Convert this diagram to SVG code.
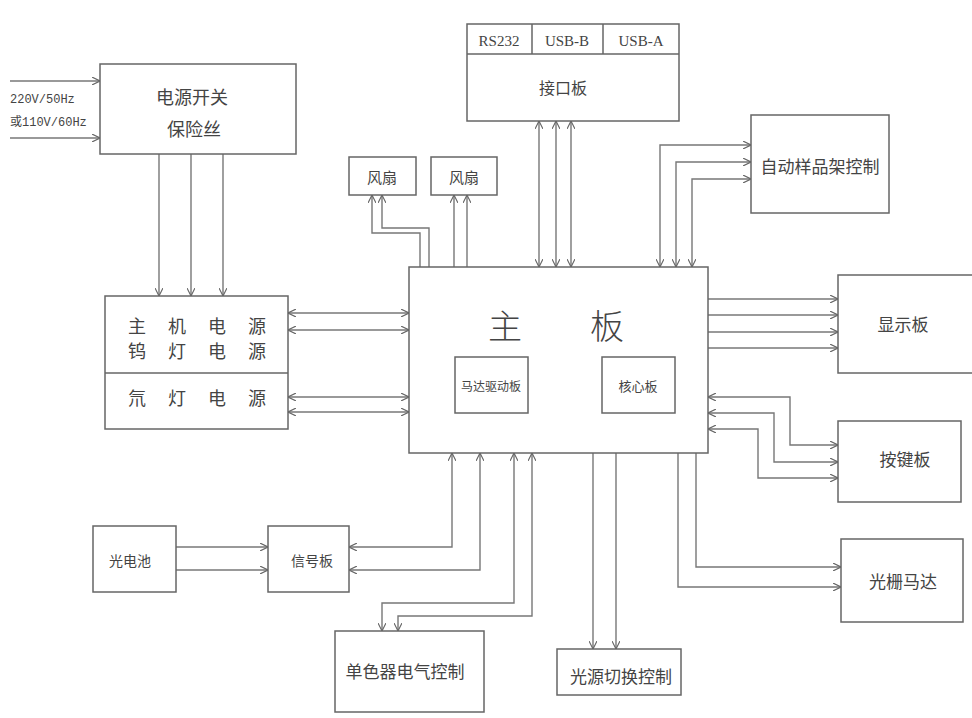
<svg xmlns="http://www.w3.org/2000/svg" width="972" height="718" viewBox="0 0 972 718">
<defs>
<marker id="ah" viewBox="0 0 10 10" refX="10" refY="5" markerWidth="8" markerHeight="8" markerUnits="userSpaceOnUse" orient="auto-start-reverse">
<path d="M0,0 L10,5 L0,10" fill="none" stroke="#666" stroke-width="1.4"/>
</marker>
</defs>
<style>
.box{fill:#fff;stroke:#666;stroke-width:1.5}
.ln{fill:none;stroke:#777;stroke-width:1.4}
.end{marker-end:url(#ah)}
.both{marker-start:url(#ah);marker-end:url(#ah)}
.cn{font-family:"Noto Sans CJK SC","Noto Sans",sans-serif;fill:#444;text-anchor:middle;dominant-baseline:central}
.mono{font-family:"Liberation Mono","Noto Sans CJK SC",monospace;fill:#444;dominant-baseline:central}
.serif{font-family:"Liberation Serif","Noto Sans CJK SC",serif;fill:#444;dominant-baseline:central;text-anchor:middle}
</style>
<rect width="972" height="718" fill="#fff"/>

<g id="connectors">
<path class="ln end" d="M10 81 H100"/>
<path class="ln end" d="M10 138 H100"/>
<path class="ln end" d="M159 154 V296"/>
<path class="ln end" d="M191 154 V296"/>
<path class="ln end" d="M223 154 V296"/>
<path class="ln both" d="M288 313 H409"/>
<path class="ln both" d="M288 330 H409"/>
<path class="ln both" d="M288 397 H409"/>
<path class="ln both" d="M288 412 H409"/>
<path class="ln end" d="M420 267 V233 H372 V195"/>
<path class="ln end" d="M429 267 V228 H382 V195"/>
<path class="ln end" d="M454 267 V195"/>
<path class="ln end" d="M467 267 V195"/>
<path class="ln both" d="M539 121 V267"/>
<path class="ln both" d="M556 121 V267"/>
<path class="ln both" d="M571 121 V267"/>
<path class="ln both" d="M660 267 V145 H751"/>
<path class="ln both" d="M676 267 V162 H751"/>
<path class="ln both" d="M692 267 V179 H751"/>
<path class="ln end" d="M708 299 H838"/>
<path class="ln end" d="M708 315 H838"/>
<path class="ln end" d="M708 332 H838"/>
<path class="ln end" d="M708 348 H838"/>
<path class="ln both" d="M708 397 H790 V445 H838"/>
<path class="ln both" d="M708 413 H774 V462 H838"/>
<path class="ln both" d="M708 429 H758 V478 H838"/>
<path class="ln end" d="M696 453 V567 H841"/>
<path class="ln end" d="M678 453 V587 H841"/>
<path class="ln end" d="M593 453 V649"/>
<path class="ln end" d="M616 453 V649"/>
<path class="ln both" d="M514 453 V603 H382 V631"/>
<path class="ln both" d="M532 453 V616 H398 V631"/>
<path class="ln both" d="M452 453 V547 H349"/>
<path class="ln both" d="M480 453 V570 H349"/>
<path class="ln end" d="M176 547 H268"/>
<path class="ln end" d="M176 570 H268"/>
</g>

<g id="input-label">
<text class="mono" x="10" y="100" font-size="12">220V/50Hz</text>
<text class="mono" x="10" y="123" font-size="12">或110V/60Hz</text>
</g>

<g id="power-switch">
<rect class="box" x="100" y="64" width="196" height="90"/>
<text class="cn" x="192" y="96" font-size="18">电源开关</text>
<text class="cn" x="194" y="128" font-size="18">保险丝</text>
</g>

<g id="power-supply">
<rect class="box" x="105" y="296" width="183" height="133"/>
<line x1="105" y1="373" x2="288" y2="373" stroke="#666" stroke-width="1.5"/>
<g class="cn" font-size="18">
<text x="137" y="325">主</text><text x="177" y="325">机</text><text x="217" y="325">电</text><text x="257" y="325">源</text>
<text x="137" y="350">钨</text><text x="177" y="350">灯</text><text x="217" y="350">电</text><text x="257" y="350">源</text>
<text x="137" y="397">氘</text><text x="177" y="397">灯</text><text x="217" y="397">电</text><text x="257" y="397">源</text>
</g>
</g>

<g id="interface-board">
<rect class="box" x="467" y="24" width="212" height="97"/>
<line x1="467" y1="54" x2="679" y2="54" stroke="#666" stroke-width="1.5"/>
<line x1="532" y1="24" x2="532" y2="54" stroke="#666" stroke-width="1.5"/>
<line x1="603" y1="24" x2="603" y2="54" stroke="#666" stroke-width="1.5"/>
<text class="serif" x="499" y="41" font-size="15">RS232</text>
<text class="serif" x="567" y="41" font-size="15">USB-B</text>
<text class="serif" x="641" y="41" font-size="15">USB-A</text>
<text class="cn" x="563" y="87" font-size="16">接口板</text>
</g>

<g id="fan1">
<rect class="box" x="349" y="157" width="67" height="38"/>
<text class="cn" x="382" y="176" font-size="15">风扇</text>
</g>
<g id="fan2">
<rect class="box" x="431" y="157" width="66" height="38"/>
<text class="cn" x="464" y="176" font-size="15">风扇</text>
</g>

<g id="sampler">
<rect class="box" x="751" y="115" width="138" height="98"/>
<text class="cn" x="820" y="165" font-size="17">自动样品架控制</text>
</g>

<g id="main-board">
<rect class="box" x="409" y="267" width="299" height="186"/>
<text class="cn" x="505" y="324" font-size="34" font-weight="300">主</text>
<text class="cn" x="607" y="324" font-size="34" font-weight="300">板</text>
<rect class="box" x="455" y="357" width="73" height="56"/>
<text class="cn" x="491" y="385" font-size="12">马达驱动板</text>
<rect class="box" x="602" y="357" width="73" height="56"/>
<text class="cn" x="638" y="385" font-size="13">核心板</text>
</g>

<g id="display-board">
<rect class="box" x="838" y="275" width="140" height="98"/>
<text class="cn" x="903" y="323" font-size="17">显示板</text>
</g>

<g id="key-board">
<rect class="box" x="838" y="421" width="123" height="81"/>
<text class="cn" x="905" y="458" font-size="17">按键板</text>
</g>

<g id="grating-motor">
<rect class="box" x="841" y="539" width="122" height="83"/>
<text class="cn" x="903" y="580" font-size="17">光栅马达</text>
</g>

<g id="light-switch">
<rect class="box" x="557" y="649" width="124" height="46"/>
<text class="cn" x="621" y="675" font-size="17">光源切换控制</text>
</g>

<g id="monochromator">
<rect class="box" x="335" y="631" width="149" height="81"/>
<text class="cn" x="405" y="670" font-size="17">单色器电气控制</text>
</g>

<g id="signal-board">
<rect class="box" x="268" y="526" width="81" height="66"/>
<text class="cn" x="312" y="560" font-size="14">信号板</text>
</g>

<g id="photocell">
<rect class="box" x="93" y="526" width="83" height="66"/>
<text class="cn" x="130" y="560" font-size="14">光电池</text>
</g>
</svg>
